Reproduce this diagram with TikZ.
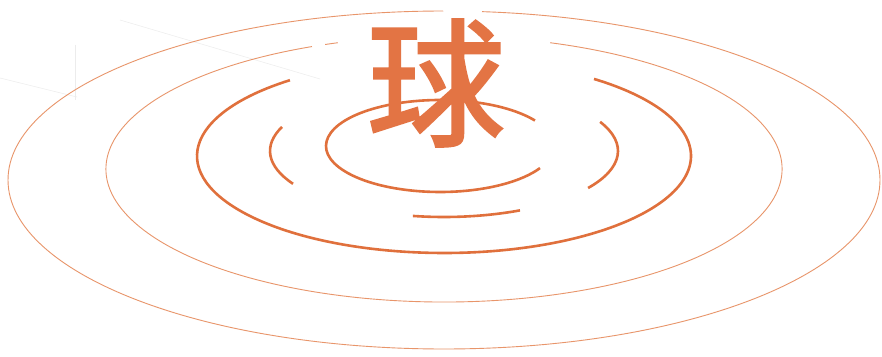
\documentclass[tikz,border=0pt]{standalone}
\usepackage{fontspec}
\newfontfamily\cjk{Noto Sans CJK SC}[FakeBold=2]
\definecolor{ringthin}{HTML}{E8956A}
\definecolor{ringthick}{HTML}{E0703C}
\definecolor{glyph}{HTML}{E37444}
\begin{document}
\begin{tikzpicture}[x=1pt,y=1pt,
  thinring/.style={draw=ringthin,line width=0.9pt},
  thickring/.style={draw=ringthick,line width=2.6pt},
  faint/.style={draw=gray!15,line width=0.5pt}]
\useasboundingbox[fill=white] (0,0) rectangle (882,356);
% faint scan lines
\draw[faint] (120,336) -- (320,277);
\draw[faint] (0,278) -- (77,259);
\draw[faint] (75,311) -- (75,256);
% centres
\coordinate (c1) at (444,176);
\coordinate (c2) at (444,187);
\coordinate (c3) at (444,200);
\coordinate (c4) at (444,205);
\coordinate (c5) at (440,210);
% outer ring
\draw[thinring] (c1) ++(90.1:436 and 169) arc[start angle=90.1,end angle=445,x radius=436,y radius=169];
% second ring
\draw[thinring] (c2) ++(113:338 and 133) arc[start angle=113,end angle=431.7,x radius=338,y radius=133];
\draw[thinring] (c2) ++(108.3:338 and 133) arc[start angle=108.3,end angle=110.6,x radius=338,y radius=133];
% third ring
\draw[thickring] (c3) ++(128.6:247 and 97) arc[start angle=128.6,end angle=412.6,x radius=247,y radius=97];
% fourth ring (fragments)
\draw[thickring] (c4) ++(158.6:174 and 66) arc[start angle=158.6,end angle=209.8,x radius=174,y radius=66];
\draw[thickring] (c4) ++(-34.1:174 and 66) arc[start angle=-34.1,end angle=26.2,x radius=174,y radius=66];
\draw[thickring] (c4) ++(259.7:174 and 66) arc[start angle=259.7,end angle=295.9,x radius=174,y radius=66];
% inner ring
\draw[thickring] (c5) ++(33.6:114 and 46) arc[start angle=33.6,end angle=331.3,x radius=114,y radius=46];
% character
\node[text=glyph,font=\cjk\fontsize{138}{138}\selectfont,inner sep=0pt] (qiu) at (436,273) {球};
\end{tikzpicture}
\end{document}
